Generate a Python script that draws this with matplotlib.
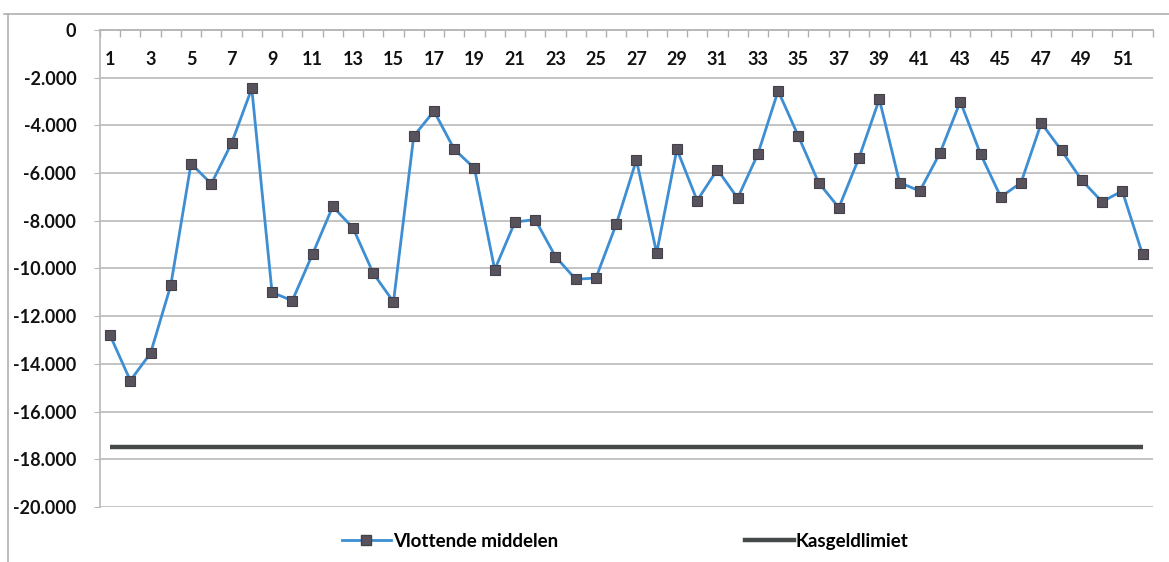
import matplotlib
matplotlib.use("Agg")
import matplotlib.pyplot as plt
from matplotlib.ticker import FuncFormatter, FixedLocator
from matplotlib.lines import Line2D

weeks = list(range(1, 53))
vlottende_middelen = [
    -12800, -14700, -13550, -10700, -5600, -6450, -4750, -2450, -11000, -11350,
    -9400, -7400, -8300, -10200, -11400, -4450, -3400, -5000, -5800, -10050,
    -8050, -7950, -9500, -10450, -10400, -8150, -5450, -9350, -5000, -7150,
    -5850, -7050, -5200, -2550, -4450, -6400, -7450, -5350, -2900, -6400,
    -6750, -5150, -3000, -5200, -7000, -6400, -3900, -5050, -6300, -7200,
    -6750, -9400,
]
kasgeldlimiet = [-17500] * 52
series_names = ["Vlottende middelen", "Kasgeldlimiet"]
y_ticks = list(range(0, -20001, -2000))

plt.rcParams['font.family'] = ['Lato', 'DejaVu Sans']

fig = plt.figure(figsize=(11.69, 5.62), dpi=100)
ax = fig.add_axes([0.0855, 0.0979, 0.9005, 0.8487])

ax.plot(weeks, kasgeldlimiet, color='#474a4a', lw=3.2, solid_capstyle='butt', zorder=2)
ax.plot(weeks, vlottende_middelen, color='#3d8ed2', lw=2.0, marker='s', markersize=7.5,
        markerfacecolor='#57525c', markeredgecolor='#45404a', markeredgewidth=0.8, zorder=3)

ax.set_xlim(0.5, 52.5)
ax.set_ylim(-20000, 0)

ax.yaxis.set_major_locator(FixedLocator(y_ticks))
ax.yaxis.set_major_formatter(FuncFormatter(lambda v, p: f"{int(round(v)):,}".replace(",", ".")))
ax.grid(axis='y', color='#c4c4c4', lw=1.4)
ax.set_axisbelow(True)

for s in ['right', 'bottom']:
    ax.spines[s].set_visible(False)
ax.spines['left'].set_color('#b8b8b8')
ax.spines['top'].set_color('#b8b8b8')
ax.spines['left'].set_linewidth(1.2)
ax.spines['top'].set_linewidth(1.4)

# x axis along the top (value 0) with labels below it
odd_weeks = [w for w in weeks if w % 2 == 1]
ax.xaxis.set_major_locator(FixedLocator(odd_weeks))
ax.xaxis.set_minor_locator(FixedLocator([w + 0.5 for w in [0] + weeks]))
ax.set_xticklabels([str(w) for w in odd_weeks])
ax.tick_params(axis='x', which='major', top=True, bottom=False, labeltop=True, labelbottom=False,
               length=0, pad=-27, labelsize=13, labelcolor='#111111')
ax.tick_params(axis='x', which='minor', top=True, bottom=False, direction='in', length=5,
               color='#b0b0b0', width=1)
for lbl in ax.get_xticklabels():
    lbl.set_fontweight('bold')
ax.tick_params(axis='y', length=4, color='#b8b8b8', pad=13, labelsize=13, labelcolor='#111111')
for lbl in ax.get_yticklabels():
    lbl.set_fontweight('bold')

handles = [
    Line2D([], [], color='#3d8ed2', lw=2.0, marker='s', markersize=7.5,
           markerfacecolor='#57525c', markeredgecolor='#45404a'),
    Line2D([], [], color='#474a4a', lw=3.2),
]
fig.legend(handles, series_names, loc='center', bbox_to_anchor=(0.535, 0.037), ncol=2,
           frameon=False, prop={'size': 13.5, 'weight': 'bold'}, handlelength=2.6,
           handletextpad=0.1, columnspacing=10.0)

# outer chart frame
fig.add_artist(Line2D([0.003, 1.0], [1 - 14 / 562, 1 - 14 / 562], color='#b0b0b0', lw=1.2,
                      transform=fig.transFigure))
fig.add_artist(Line2D([8 / 1169, 8 / 1169], [0.0, 1 - 14 / 562], color='#b0b0b0', lw=1.2,
                      transform=fig.transFigure))

fig.savefig('out.png', dpi=100)
